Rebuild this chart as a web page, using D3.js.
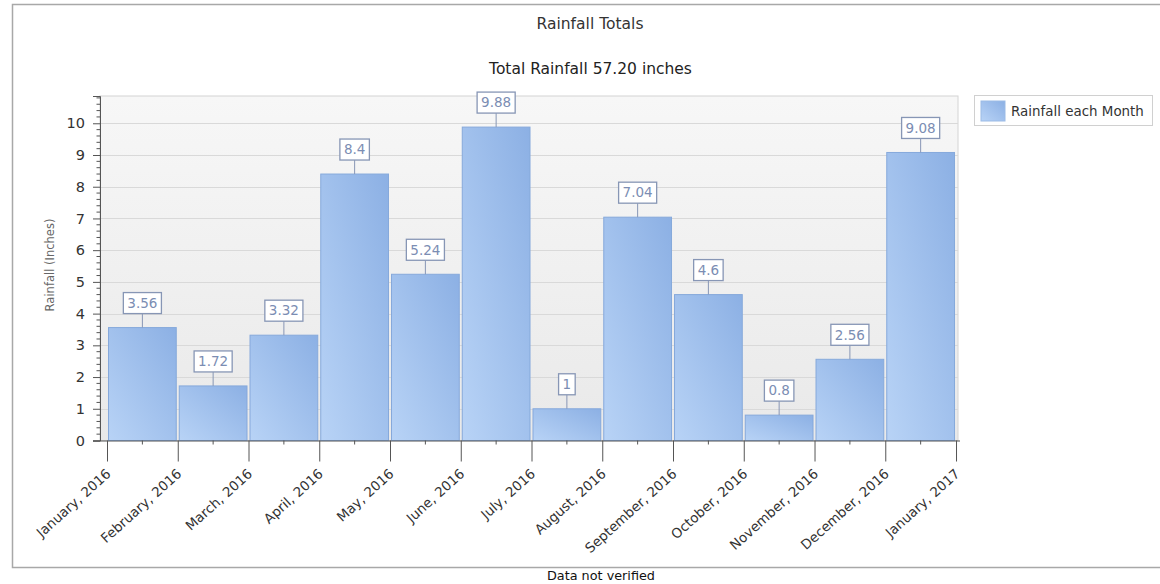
<!DOCTYPE html>
<html>
<head>
<meta charset="utf-8">
<script src="https://cdn.jsdelivr.net/npm/d3@7"></script>
<style>
  html, body { margin: 0; padding: 0; background: #fff; }
  svg { display: block; }
</style>
</head>
<body>
<svg id="chart" width="1160" height="584"></svg>
<script>
const tickLabels = ["January, 2016", "February, 2016", "March, 2016", "April, 2016", "May, 2016", "June, 2016",
  "July, 2016", "August, 2016", "September, 2016", "October, 2016", "November, 2016", "December, 2016", "January, 2017"];
const rainfall = [3.56, 1.72, 3.32, 8.4, 5.24, 9.88, 1, 7.04, 4.6, 0.8, 2.56, 9.08];
const yTicks = [0, 1, 2, 3, 4, 5, 6, 7, 8, 9, 10];
const seriesName = "Rainfall each Month";
const chartTitle = "Rainfall Totals";
const yTitle = "Rainfall (Inches)";
const footer = "Data not verified";

const total = d3.sum(rainfall);
const subTitle = "Total Rainfall " + total.toFixed(2) + " inches";

const FONT = "'DejaVu Sans', Verdana, sans-serif";
const svg = d3.select("#chart");
const defs = svg.append("defs");

const plot = { left: 100, right: 958, top: 96, bottom: 440.5 };

const x = d3.scaleLinear().domain([-0.099, 12.028]).range([plot.left, plot.right]);
const y = d3.scaleLinear().domain([0, 10.86]).range([plot.bottom, plot.top]);

// gradients
const bg = defs.append("linearGradient").attr("id", "bg").attr("x1", 0).attr("y1", 0).attr("x2", 0).attr("y2", 1);
bg.append("stop").attr("offset", "0%").attr("stop-color", "#f7f7f7");
bg.append("stop").attr("offset", "100%").attr("stop-color", "#e9e9e9");

const bar = defs.append("linearGradient").attr("id", "bar").attr("x1", 0).attr("y1", 1).attr("x2", 1).attr("y2", 0);
bar.append("stop").attr("offset", "0%").attr("stop-color", "#b8d3f6");
bar.append("stop").attr("offset", "100%").attr("stop-color", "#8cb0e4");

// outer border
svg.append("rect").attr("x", 12.5).attr("y", 4.5).attr("width", 1160).attr("height", 563)
  .attr("fill", "#fff").attr("stroke", "#a8a8a8").attr("stroke-width", 1.5);

// fit-to-width helper
function fit(sel, target) {
  const w = sel.node().getComputedTextLength();
  const fs = parseFloat(sel.attr("font-size"));
  sel.attr("font-size", (fs * target / w).toFixed(2));
}

// titles
fit(svg.append("text").attr("x", 590).attr("y", 29).attr("text-anchor", "middle")
  .attr("font-family", FONT).attr("font-size", 14).attr("fill", "#333").text(chartTitle), 107);
fit(svg.append("text").attr("x", 590.5).attr("y", 74).attr("text-anchor", "middle")
  .attr("font-family", FONT).attr("font-size", 14).attr("fill", "#222").text(subTitle), 203);

// plot background
svg.append("rect").attr("x", plot.left).attr("y", plot.top)
  .attr("width", plot.right - plot.left).attr("height", plot.bottom - plot.top)
  .attr("fill", "url(#bg)").attr("stroke", "#d4d4d4");

// gridlines
svg.append("g").selectAll("line").data(yTicks.filter(d => d > 0)).join("line")
  .attr("x1", plot.left).attr("x2", plot.right)
  .attr("y1", d => Math.round(y(d)) + 0.5).attr("y2", d => Math.round(y(d)) + 0.5)
  .attr("stroke", "#d9d9d9");

// bars
svg.append("g").selectAll("rect").data(rainfall).join("rect")
  .attr("x", (d, i) => x(i) + 1.5)
  .attr("width", (d, i) => x(i + 1) - x(i) - 3)
  .attr("y", d => y(d))
  .attr("height", d => y(0) - y(d))
  .attr("fill", "url(#bar)")
  .attr("stroke", "#86a9db").attr("stroke-width", 1);

// y axis
const yAxis = d3.axisLeft(y).tickValues(yTicks).tickSize(7).tickPadding(8).tickFormat(d3.format("d"));
const yG = svg.append("g").attr("transform", `translate(${plot.left},0)`).call(yAxis);
yG.select(".domain").attr("stroke", "#555");
yG.selectAll(".tick line").attr("stroke", "#555");
yG.selectAll(".tick text").attr("font-family", FONT).attr("font-size", 14.5).attr("fill", "#333");
const yMinor = d3.range(0, 10.81, 0.2).filter(v => Math.abs(v - Math.round(v)) > 0.01);
svg.append("g").selectAll("line").data(yMinor).join("line")
  .attr("x1", plot.left - 3.5).attr("x2", plot.left)
  .attr("y1", d => y(d)).attr("y2", d => y(d)).attr("stroke", "#555");

// x axis
const xAxis = d3.axisBottom(x).tickValues(d3.range(tickLabels.length)).tickSize(21).tickFormat(i => tickLabels[i]);
const xG = svg.append("g").attr("transform", `translate(0,${plot.bottom})`).call(xAxis);
xG.select(".domain").attr("d", `M${plot.left - 7},0.5H${plot.right + 2}`).attr("stroke", "#555");
xG.selectAll(".tick line").attr("stroke", "#555");
xG.selectAll(".tick text")
  .attr("font-family", FONT).attr("font-size", 13.5).attr("fill", "#333")
  .attr("text-anchor", "end").attr("dy", "0.35em")
  .attr("transform", "translate(1,31) rotate(-42)").attr("y", 0).attr("x", 0);
const xMinor = d3.range(tickLabels.length - 1).map(i => i + 0.5);
svg.append("g").selectAll("line").data(xMinor).join("line")
  .attr("x1", d => x(d)).attr("x2", d => x(d))
  .attr("y1", plot.bottom).attr("y2", plot.bottom + 4).attr("stroke", "#555");

// data labels
const lab = svg.append("g").selectAll("g").data(rainfall).join("g")
  .attr("transform", (d, i) => `translate(${x(i + 0.5)},${y(d)})`);
lab.append("line").attr("x1", 0).attr("x2", 0).attr("y1", 0).attr("y2", -14).attr("stroke", "#8796b5");
lab.each(function(d) {
  const g = d3.select(this);
  const r = g.append("rect").attr("fill", "#fff").attr("stroke", "#8796b5").attr("stroke-width", 1.3);
  const t = g.append("text").attr("text-anchor", "middle").attr("y", -24.5).attr("dy", "0.35em")
    .attr("font-family", FONT).attr("font-size", 13.5).attr("fill", "#7b8db3").text(String(d));
  const w = t.node().getComputedTextLength() + 8;
  r.attr("x", -w / 2).attr("y", -35).attr("width", w).attr("height", 21);
});

// y title
svg.append("text").attr("transform", "translate(54,265) rotate(-90)").attr("text-anchor", "middle")
  .attr("font-family", FONT).attr("font-size", 11.5).attr("fill", "#666").text(yTitle);

// legend
svg.append("rect").attr("x", 974.5).attr("y", 95.5).attr("width", 178).attr("height", 30)
  .attr("fill", "#fff").attr("stroke", "#d0d0d0");
svg.append("rect").attr("x", 981).attr("y", 101).attr("width", 24).attr("height", 20)
  .attr("fill", "url(#bar)").attr("stroke", "#9bbbe6");
fit(svg.append("text").attr("x", 1011).attr("y", 111).attr("dy", "0.35em")
  .attr("font-family", FONT).attr("font-size", 13).attr("fill", "#333").text(seriesName), 133);

// footer
fit(svg.append("text").attr("x", 547).attr("y", 576).attr("dy", "0.35em")
  .attr("font-family", FONT).attr("font-size", 11).attr("fill", "#111").text(footer), 108);
</script>
</body>
</html>
